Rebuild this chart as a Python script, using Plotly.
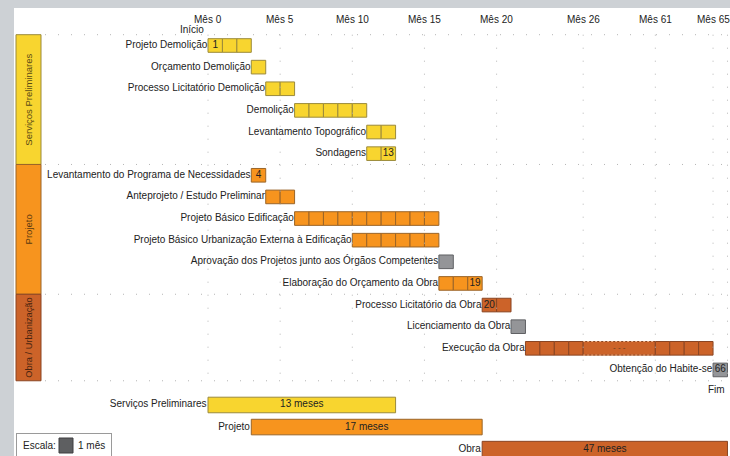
import plotly.graph_objects as go

# ---------------- data ----------------
group_names = ["Serviços Preliminares", "Projeto", "Obra / Urbanização"]
group_sizes = [6, 6, 4]

task_names = [
    "Projeto Demolição", "Orçamento Demolição", "Processo Licitatório Demolição",
    "Demolição", "Levantamento Topográfico", "Sondagens",
    "Levantamento do Programa de Necessidades", "Anteprojeto / Estudo Preliminar",
    "Projeto Básico Edificação", "Projeto Básico Urbanização Externa à Edificação",
    "Aprovação dos Projetos junto aos Órgãos Competentes", "Elaboração do Orçamento da Obra",
    "Processo Licitatório da Obra", "Licenciamento da Obra", "Execução da Obra",
    "Obtenção do Habite-se",
]
task_start = [0, 3, 4, 6, 11, 11, 3, 4, 6, 10, 16, 16, 19, 21, 22, 65]
task_months = [3, 1, 2, 5, 2, 2, 1, 2, 10, 6, 1, 3, 2, 1, 43, 1]
task_kind = ["sp", "sp", "sp", "sp", "sp", "sp",
             "pr", "pr", "pr", "pr", "gray", "pr",
             "ob", "gray", "ob", "gray"]
task_cell_label = [1, None, None, None, None, 13, 4, None, None, None, None, 19, 20, None, None, 66]

summary_names = ["Serviços Preliminares", "Projeto", "Obra"]
summary_start = [0, 3, 19]
summary_end = [13, 19, 66]
summary_text = ["13 meses", "17 meses", "47 meses"]

tick_months = [0, 5, 10, 15, 20, 26, 61, 65]
tick_labels = ["Mês 0", "Mês 5", "Mês 10", "Mês 15", "Mês 20", "Mês 26", "Mês 61", "Mês 65"]
grid_months = [0, 5, 10, 15, 20, 26, 61, 65, 66]
break_start, break_end = 26, 61

# ---------------- styles ----------------
FONT = "Liberation Sans, Arial, sans-serif"
fill = {"sp": "#f8d52f", "pr": "#f7941e", "ob": "#cc6329", "gray": "#949598"}
edge = {"sp": "#9b8a3b", "pr": "#9a6428", "ob": "#8a4523", "gray": "#606164"}
group_kind = ["sp", "pr", "ob"]
group_text_color = ["#5a4a14", "#5a3a10", "#4a2510"]

PX0, PXW = 208.0, 14.43     # pixel of month 0, pixel per displayed month
PY0, PYH = 45.5, 21.63      # pixel of row 0, pixel per row
summary_rows = [16.62, 17.64, 18.66]
CELL_H, SUM_H = 0.63, 0.72


def px2x(p):
    return (p - PX0) / PXW


def px2y(p):
    return (p - PY0) / PYH


def disp(m):
    """broken axis: months 26..61 compressed to 5 display units"""
    if m <= break_start:
        return m
    if m >= break_end:
        return m - (break_end - break_start) + 5
    return break_start + (m - break_start) * 5.0 / (break_end - break_start)


fig = go.Figure()

# ---- group side bars ----
row0 = 0
for gi, n in enumerate(group_sizes):
    center = row0 + (n - 1) / 2.0
    fig.add_trace(go.Bar(
        orientation="h", y=[center], x=[px2x(41) - px2x(16)], base=[px2x(16)],
        width=[n], marker=dict(color=fill[group_kind[gi]], line=dict(color=edge[group_kind[gi]], width=1)),
        text=[group_names[gi]], textposition="inside", insidetextanchor="middle",
        textangle=-90, textfont=dict(size=9.5, color=group_text_color[gi], family=FONT),
        hoverinfo="skip"))
    row0 += n

# ---- grid (dotted) ----
bounds = [-0.5]
for n in group_sizes:
    bounds.append(bounds[-1] + n)
gx, gyy = [], []
for b in bounds:
    gx += [px2x(45), disp(66), None]
    gyy += [b, b, None]
for m in grid_months:
    gx += [disp(m), disp(m), None]
    gyy += [bounds[0], bounds[-1], None]
fig.add_trace(go.Scatter(x=gx, y=gyy, mode="lines",
                         line=dict(color="#b5b5b5", width=1, dash="1px,12px"),
                         hoverinfo="skip"))

# ---- task cells ----
cells = {k: dict(y=[], base=[], x=[]) for k in fill}
num_x, num_y, num_t = [], [], []
brk_rows = []
for i, (s, d, k) in enumerate(zip(task_start, task_months, task_kind)):
    m = s
    while m < s + d:
        c = cells[k]
        if break_start <= m < break_end and s + d >= break_end:
            c["y"].append(i); c["base"].append(disp(break_start))
            c["x"].append(disp(break_end) - disp(break_start))
            brk_rows.append(i)
            m = break_end
            continue
        c["y"].append(i); c["base"].append(disp(m))
        c["x"].append(disp(m + 1) - disp(m))
        if task_cell_label[i] == m + 1:
            num_x.append((disp(m) + disp(m + 1)) / 2); num_y.append(i); num_t.append(str(m + 1))
        m += 1

for k, c in cells.items():
    if not c["y"]:
        continue
    fig.add_trace(go.Bar(
        orientation="h", y=c["y"], x=c["x"], base=c["base"], width=CELL_H,
        marker=dict(color=fill[k], line=dict(color=edge[k], width=1)),
        hoverinfo="skip"))

# break region decoration (dotted light edges and dots)
bx, byy = [], []
for r in brk_rows:
    for off in (-CELL_H / 2, CELL_H / 2):
        bx += [disp(break_start), disp(break_end), None]
        byy += [r + off, r + off, None]
fig.add_trace(go.Scatter(x=bx, y=byy, mode="lines",
                         line=dict(color="#f2b48a", width=1, dash="2px,2px"), hoverinfo="skip"))
fig.add_trace(go.Scatter(
    x=[(disp(break_start) + disp(break_end)) / 2 for _ in brk_rows], y=brk_rows,
    mode="text", text=["- - -" for _ in brk_rows],
    textfont=dict(size=8, color="#5a3a20", family=FONT), hoverinfo="skip"))

# numbers inside cells
fig.add_trace(go.Scatter(x=num_x, y=num_y, mode="text", text=num_t,
                         textfont=dict(size=10, color="#222222", family=FONT), hoverinfo="skip"))

# task labels
fig.add_trace(go.Scatter(
    x=[disp(s) - 0.05 for s in task_start], y=list(range(len(task_names))),
    mode="text", text=task_names, textposition="middle left",
    textfont=dict(size=10, color="#222222", family=FONT), hoverinfo="skip"))

# ---- summary bars ----
for i in range(len(summary_names)):
    k = group_kind[i]
    fig.add_trace(go.Bar(
        orientation="h", y=[summary_rows[i]], base=[disp(summary_start[i])],
        x=[disp(summary_end[i]) - disp(summary_start[i])], width=SUM_H,
        marker=dict(color=fill[k], line=dict(color=edge[k], width=1)),
        textposition="none", hoverinfo="skip"))
fig.add_trace(go.Scatter(
    x=[(disp(s) + disp(e)) / 2 for s, e in zip(summary_start, summary_end)], y=summary_rows,
    mode="text", text=summary_text,
    textfont=dict(size=10, color="#222222", family=FONT), hoverinfo="skip"))
fig.add_trace(go.Scatter(
    x=[disp(s) - 0.1 for s in summary_start], y=summary_rows, mode="text",
    text=summary_names, textposition="middle left",
    textfont=dict(size=10, color="#222222", family=FONT), hoverinfo="skip"))

# ---- annotations: month ticks, Início, Fim, scale ----
ann = []
for m, t in zip(tick_months, tick_labels):
    ann.append(dict(x=disp(m), y=px2y(19), text=t, showarrow=False, xanchor="center", yanchor="middle",
                    font=dict(size=10, color="#222222", family=FONT)))
ann.append(dict(x=px2x(206), y=px2y(29), text="Início", showarrow=False, xanchor="right", yanchor="middle",
                font=dict(size=10, color="#222222", family=FONT)))
ann.append(dict(x=disp(66), y=px2y(389), text="Fim", showarrow=False, xanchor="right", yanchor="middle",
                font=dict(size=10, color="#222222", family=FONT)))
ann.append(dict(x=px2x(16), y=px2y(433), text="Escala:        1 mês", showarrow=False,
                xanchor="left", yanchor="top", bordercolor="#9a9a9a", borderwidth=1, borderpad=6,
                bgcolor="rgba(0,0,0,0)", font=dict(size=10, color="#222222", family=FONT)))

shapes = [dict(type="rect", xref="x", yref="y", x0=px2x(59), x1=px2x(73), y0=px2y(438), y1=px2y(453),
               fillcolor="#5e5f61", line=dict(color="#3f3f40", width=1), layer="above")]

fig.update_layout(
    width=730, height=456, margin=dict(l=14, r=0, t=8, b=0),
    paper_bgcolor="#cdd1d5", plot_bgcolor="white",
    barmode="overlay", showlegend=False,
    xaxis=dict(range=[px2x(14), px2x(730)], visible=False, fixedrange=True),
    yaxis=dict(range=[px2y(456), px2y(8)], visible=False, fixedrange=True),
    annotations=ann, shapes=shapes,
    font=dict(family=FONT),
)

fig.write_html("out.html", config={"displayModeBar": False},
               post_script="document.body.style.margin='0';document.body.style.overflow='hidden';")
